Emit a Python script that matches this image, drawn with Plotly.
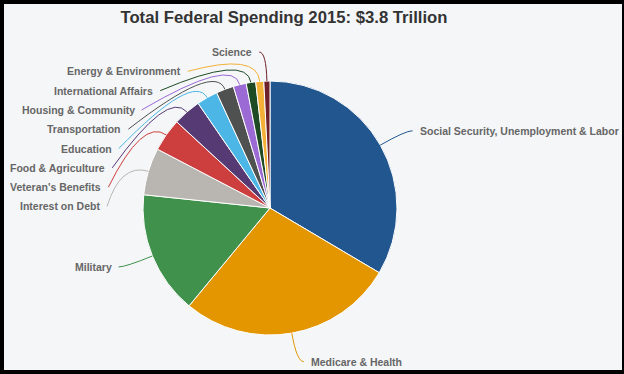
import math
import plotly.graph_objects as go

# ---------------- data ----------------
categories = [
    "Social Security, Unemployment & Labor",
    "Medicare & Health",
    "Military",
    "Interest on Debt",
    "Veteran's Benefits",
    "Food & Agriculture",
    "Education",
    "Transportation",
    "Housing & Community",
    "International Affairs",
    "Energy & Environment",
    "Science",
]
values = [1280, 1050, 598.5, 229.2, 160.6, 135.7, 102.3, 85.5, 63.3, 46.1, 38.9, 29.7]  # $ billions
colors = [
    "#22568f", "#e39600", "#3f914b", "#b9b6b1", "#cd3f3e", "#553a74",
    "#4cb6e6", "#4e514f", "#9b6ad4", "#1e4a24", "#f3b137", "#6e2128",
]
title_text = "Total Federal Spending 2015: $3.8 Trillion"

# ---------------- geometry (pixels) ----------------
W, H = 624, 374
CX, CY, R = 270, 208, 127          # pie centre and radius
LEN1, LEN2, GAP, LINE_H = 29, 7, 5, 19.3
BG = "#f5f6f8"
LABEL_COLOR = "#666666"
FONT = "Liberation Sans, Arial, sans-serif"

dom_x = [(CX - R) / W, (CX + R) / W]
dom_y = [1 - (CY + R) / H, 1 - (CY - R) / H]

def px(x):
    return x / W

def py(y):
    return 1 - y / H

total = sum(values)
cum = 0.0
info = []
for cat, v, c in zip(categories, values, colors):
    mid = (cum + v / 2) / total * 2 * math.pi
    cum += v
    s, co = math.sin(mid), math.cos(mid)
    side = 1 if mid < math.pi else -1
    info.append(dict(cat=cat, color=c, s=s, c=co, side=side,
                     y=CY - (R + LEN1) * co))

# overlap avoidance per side (push downward)
for side in (1, -1):
    items = sorted([d for d in info if d["side"] == side], key=lambda d: d["y"])
    prev = None
    for d in items:
        if prev is not None and d["y"] < prev + LINE_H:
            d["y"] = prev + LINE_H
        prev = d["y"]

shapes = []
annotations = []
R1 = R + LEN1
for d in info:
    x0, y0 = CX + R * d["s"], CY - R * d["c"]
    x1, y1 = CX + R1 * d["s"], CY - R1 * d["c"]
    dy = d["y"] - CY
    dx = math.sqrt(max(0.0, R1 ** 2 - dy ** 2))
    x2 = CX + d["side"] * (dx + LEN2)
    y2 = d["y"]
    path = "M {:.5f},{:.5f} Q {:.5f},{:.5f} {:.5f},{:.5f}".format(
        px(x0), py(y0), px(x1), py(y1), px(x2), py(y2))
    shapes.append(dict(type="path", path=path, xref="paper", yref="paper",
                       line=dict(color=d["color"], width=1), layer="above"))
    annotations.append(dict(
        text=d["cat"], xref="paper", yref="paper",
        x=px(x2 + d["side"] * GAP), y=py(y2),
        xanchor="left" if d["side"] > 0 else "right", yanchor="middle",
        showarrow=False,
        font=dict(family=FONT, size=10.5, color=LABEL_COLOR, weight="bold"),
    ))

# black frame
for (a, b, c_, e) in [(0, 0, W, 4), (0, H - 4, W, H), (0, 0, 4, H), (W - 2, 0, W, H)]:
    shapes.append(dict(type="rect", xref="paper", yref="paper",
                       x0=px(a), x1=px(c_), y0=py(e), y1=py(b),
                       fillcolor="#000000", line=dict(width=0), layer="above"))

fig = go.Figure(go.Pie(
    labels=categories, values=values, sort=False, direction="clockwise",
    rotation=0, marker=dict(colors=colors, line=dict(color="#ffffff", width=1)),
    textinfo="none", hoverinfo="label+value+percent", showlegend=False,
    domain=dict(x=dom_x, y=dom_y),
))

fig.update_layout(
    width=W, height=H, autosize=False,
    margin=dict(l=0, r=0, t=0, b=0),
    paper_bgcolor=BG, plot_bgcolor=BG,
    title=dict(text=title_text, x=px(284), xanchor="center", y=py(17), yanchor="middle",
               font=dict(family=FONT, size=16.7, color="#333333", weight="bold")),
    shapes=shapes, annotations=annotations,
)

fig.write_html("out.html", config={"displayModeBar": False},
               post_script="document.body.style.margin='0';document.body.style.padding='0';")
